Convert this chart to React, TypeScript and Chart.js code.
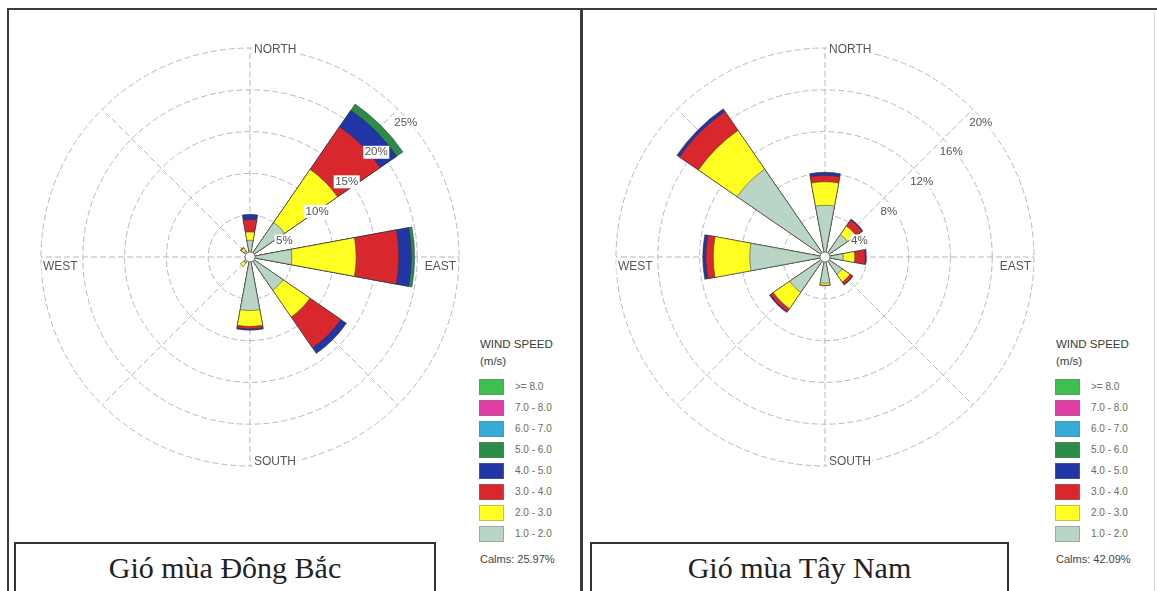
import React, { useEffect, useRef } from 'react';
import { Chart, registerables } from 'chart.js';

Chart.register(...registerables);

// Sixteen compass points; observations were only reported on the eight main ones.
const DIRECTIONS = ['N', 'NNE', 'NE', 'ENE', 'E', 'ESE', 'SE', 'SSE', 'S', 'SSW', 'SW', 'WSW', 'W', 'WNW', 'NW', 'NNW'];
const REPORTED = ['N', 'NE', 'E', 'SE', 'S', 'SW', 'W', 'NW'];
const COMPASS = ['NORTH', 'EAST', 'SOUTH', 'WEST'];

const SPEED_BINS = ['1.0 - 2.0', '2.0 - 3.0', '3.0 - 4.0', '4.0 - 5.0', '5.0 - 6.0', '6.0 - 7.0', '7.0 - 8.0', '>= 8.0'];
const SPEED_COLORS = ['#b8d5c5', '#ffff22', '#d8282e', '#2036a6', '#2b8b48', '#36aad8', '#df3ca6', '#3fbf50'];

// Gió mùa Đông Bắc – frequency (%) per speed class, directions N, NE, E, SE, S, SW, W, NW
const DB_1_2 = [2.0, 5.0, 5.0, 4.8, 6.4, 0.9, 0.4, 0.9];
const DB_2_3 = [1.0, 7.7, 7.7, 3.9, 1.9, 0.5, 0.2, 0.4];
const DB_3_4 = [1.5, 6.2, 5.1, 4.5, 0.3, 0.0, 0.0, 0.1];
const DB_4_5 = [0.6, 2.4, 1.5, 0.8, 0.15, 0.0, 0.0, 0.0];
const DB_5_6 = [0.0, 0.9, 0.4, 0.0, 0.0, 0.0, 0.0, 0.0];
const DB_6_7 = [0, 0, 0, 0, 0, 0, 0, 0];
const DB_7_8 = [0, 0, 0, 0, 0, 0, 0, 0];
const DB_8_UP = [0, 0, 0, 0, 0, 0, 0, 0];
const DB_TICKS = [5, 10, 15, 20, 25];
const DB_CALMS = 'Calms: 25.97%';
const DB_TITLE = 'Gió mùa Đông Bắc';

// Gió mùa Tây Nam – frequency (%) per speed class, directions N, NE, E, SE, S, SW, W, NW
const TN_1_2 = [4.95, 2.6, 1.75, 2.0, 2.5, 4.1, 7.2, 10.2];
const TN_2_3 = [2.25, 1.0, 1.1, 0.9, 0.2, 1.9, 3.5, 4.5];
const TN_3_4 = [0.6, 0.7, 1.0, 0.3, 0.05, 0.35, 0.7, 2.2];
const TN_4_5 = [0.3, 0.1, 0.1, 0.05, 0.0, 0.1, 0.3, 0.3];
const TN_5_6 = [0, 0, 0, 0, 0, 0, 0, 0];
const TN_6_7 = [0, 0, 0, 0, 0, 0, 0, 0];
const TN_7_8 = [0, 0, 0, 0, 0, 0, 0, 0];
const TN_8_UP = [0, 0, 0, 0, 0, 0, 0, 0];
const TN_TICKS = [4, 8, 12, 16, 20];
const TN_CALMS = 'Calms: 42.09%';
const TN_TITLE = 'Gió mùa Tây Nam';

const WEDGE_WIDTH = 21; // degrees covered by a petal
const GAP_WIDTH = 24; // empty span between neighbouring petals
const SANS = '"Liberation Sans", Arial, sans-serif';
const SERIF = '"Liberation Serif", "Times New Roman", serif';
const GRID_COLOR = '#b9b9b9';

// Petals are stacked: each speed class reaches out to the running total of all slower classes.
function stackedData(bins: number[][]) {
  const running = REPORTED.map(() => 0);
  return bins.map((bin) => {
    const out: number[] = [];
    REPORTED.forEach((_, d) => {
      running[d] += bin[d];
      out.push(bin[d] > 0 ? running[d] : 0);
      out.push(0);
    });
    return out;
  });
}

function textWithBackdrop(ctx: CanvasRenderingContext2D, text: string, x: number, y: number, align: 'left' | 'right') {
  const w = ctx.measureText(text).width;
  const x0 = align === 'left' ? x : x - w;
  ctx.fillStyle = '#ffffff';
  ctx.fillRect(x0 - 1.5, y - 6.5, w + 3, 13);
  ctx.fillStyle = '#555555';
  ctx.textAlign = 'left';
  ctx.textBaseline = 'middle';
  ctx.fillText(text, x0, y);
}

function roseDecor(ticks: number[]) {
  return {
    id: 'roseDecor',
    beforeDatasetsDraw(chart: any) {
      const s = chart.scales.r;
      const ctx: CanvasRenderingContext2D = chart.ctx;
      const R = s.drawingArea;
      ctx.save();
      ctx.strokeStyle = GRID_COLOR;
      ctx.lineWidth = 1;
      ctx.setLineDash([6, 3]);
      REPORTED.forEach((_, k) => {
        const a = (k * Math.PI) / 4;
        ctx.beginPath();
        ctx.moveTo(s.xCenter, s.yCenter);
        ctx.lineTo(s.xCenter + R * Math.sin(a), s.yCenter - R * Math.cos(a));
        ctx.stroke();
      });
      ctx.restore();
    },
    afterDatasetsDraw(chart: any) {
      const s = chart.scales.r;
      const ctx: CanvasRenderingContext2D = chart.ctx;
      const R = s.drawingArea;
      const xc = s.xCenter;
      const yc = s.yCenter;
      ctx.save();
      // calm circle in the middle
      ctx.beginPath();
      ctx.arc(xc, yc, 5, 0, Math.PI * 2);
      ctx.fillStyle = '#ffffff';
      ctx.fill();
      ctx.strokeStyle = '#777777';
      ctx.lineWidth = 1;
      ctx.stroke();

      // percentage rings, labelled along the north-east diagonal
      ctx.font = `11.5px ${SANS}`;
      ticks.forEach((v) => {
        const r = s.getDistanceFromCenterForValue(v);
        const px = xc + r * Math.SQRT1_2;
        const py = yc - r * Math.SQRT1_2;
        textWithBackdrop(ctx, `${v}%`, px - 3.5, py + 13.5, 'left');
      });

      // compass names
      ctx.font = `12px ${SANS}`;
      textWithBackdrop(ctx, COMPASS[0], xc + 4, yc - R + 2, 'left');
      textWithBackdrop(ctx, COMPASS[1], xc + R - 3, yc + 10, 'right');
      textWithBackdrop(ctx, COMPASS[2], xc + 4, yc + R - 4, 'left');
      textWithBackdrop(ctx, COMPASS[3], xc - R + 2, yc + 10, 'left');
      ctx.restore();
    },
  };
}

const ROSE_BOX = 430;

function WindRose(props: { cx: number; cy: number; bins: number[][]; ticks: number[] }) {
  const ref = useRef<HTMLCanvasElement>(null);
  useEffect(() => {
    const stacked = stackedData(props.bins);
    const angles = DIRECTIONS.map((_, i) => (i % 2 === 0 ? WEDGE_WIDTH : GAP_WIDTH));
    const t = props.ticks;
    const chart = new Chart(ref.current as HTMLCanvasElement, {
      type: 'polarArea',
      data: {
        labels: DIRECTIONS,
        datasets: SPEED_BINS.map((label, k) => ({
          label,
          data: stacked[k],
          backgroundColor: SPEED_COLORS[k],
          borderColor: 'rgba(50,50,50,0.75)',
          borderWidth: 0.7,
          angle: angles,
        })) as any,
      },
      options: {
        responsive: false,
        animation: false,
        events: [],
        layout: { padding: 6 },
        plugins: { legend: { display: false }, tooltip: { enabled: false } },
        scales: {
          r: {
            min: 0,
            max: t[t.length - 1],
            startAngle: -WEDGE_WIDTH / 2,
            ticks: { display: false, stepSize: t[0] },
            grid: { circular: true, color: GRID_COLOR, lineWidth: 1 },
            border: { dash: [6, 3] },
            angleLines: { display: false },
            pointLabels: { display: false },
          } as any,
        },
      },
      plugins: [roseDecor(t)],
    });
    return () => chart.destroy();
  }, []);
  return (
    <canvas
      ref={ref}
      width={ROSE_BOX}
      height={ROSE_BOX}
      style={{ position: 'absolute', left: props.cx - ROSE_BOX / 2, top: props.cy - ROSE_BOX / 2, width: ROSE_BOX, height: ROSE_BOX }}
    />
  );
}

function SpeedLegend(props: { x: number; calms: string }) {
  const x = props.x;
  const order = SPEED_BINS.map((_, i) => SPEED_BINS.length - 1 - i);
  return (
    <div style={{ fontFamily: SANS }}>
      <div style={{ position: 'absolute', left: x, top: 338, fontSize: 11.5, lineHeight: '13px', color: '#3a3a3a', whiteSpace: 'nowrap' }}>
        WIND SPEED
      </div>
      <div style={{ position: 'absolute', left: x, top: 355, fontSize: 11.5, lineHeight: '13px', color: '#3a3a3a' }}>(m/s)</div>
      {order.map((k, i) => (
        <React.Fragment key={k}>
          <div
            style={{
              position: 'absolute',
              left: x - 1,
              top: 379 + i * 21,
              width: 23,
              height: 14,
              background: SPEED_COLORS[k],
              border: '1px solid rgba(120,120,120,0.45)',
            }}
          />
          <div style={{ position: 'absolute', left: x + 35, top: 379 + i * 21, fontSize: 10, lineHeight: '16px', color: '#6a6a6a', whiteSpace: 'nowrap' }}>
            {SPEED_BINS[k]}
          </div>
        </React.Fragment>
      ))}
      <div style={{ position: 'absolute', left: x, top: 552, fontSize: 11, lineHeight: '14px', color: '#444', whiteSpace: 'nowrap' }}>
        {props.calms}
      </div>
    </div>
  );
}

function TitleBox(props: { left: number; width: number; text: string }) {
  return (
    <div
      style={{
        position: 'absolute',
        left: props.left,
        top: 542,
        width: props.width,
        height: 60,
        border: '2px solid #333',
        boxSizing: 'border-box',
        background: '#fff',
      }}
    >
      <div style={{ position: 'absolute', left: 0, right: 0, top: 6, textAlign: 'center', fontFamily: SERIF, fontSize: 30, lineHeight: '36px', color: '#222' }}>
        {props.text}
      </div>
    </div>
  );
}

export default function App() {
  const dbBins = [DB_1_2, DB_2_3, DB_3_4, DB_4_5, DB_5_6, DB_6_7, DB_7_8, DB_8_UP];
  const tnBins = [TN_1_2, TN_2_3, TN_3_4, TN_4_5, TN_5_6, TN_6_7, TN_7_8, TN_8_UP];
  return (
    <div style={{ position: 'absolute', left: 0, top: 0, width: 1157, height: 591, background: '#fff', overflow: 'hidden' }}>
      {/* frame */}
      <div style={{ position: 'absolute', left: 7, top: 8, width: 1150, height: 2, background: '#3c3c3c' }} />
      <div style={{ position: 'absolute', left: 7, top: 8, width: 2, height: 600, background: '#3c3c3c' }} />
      <div style={{ position: 'absolute', left: 580, top: 8, width: 3, height: 600, background: '#3c3c3c' }} />
      <div style={{ position: 'absolute', left: 1154, top: 12, width: 1, height: 600, background: '#d8d8d8' }} />

      <WindRose cx={250} cy={257} bins={dbBins} ticks={DB_TICKS} />
      <SpeedLegend x={480} calms={DB_CALMS} />
      <TitleBox left={14} width={422} text={DB_TITLE} />

      <WindRose cx={825} cy={257} bins={tnBins} ticks={TN_TICKS} />
      <SpeedLegend x={1056} calms={TN_CALMS} />
      <TitleBox left={590} width={419} text={TN_TITLE} />
    </div>
  );
}
